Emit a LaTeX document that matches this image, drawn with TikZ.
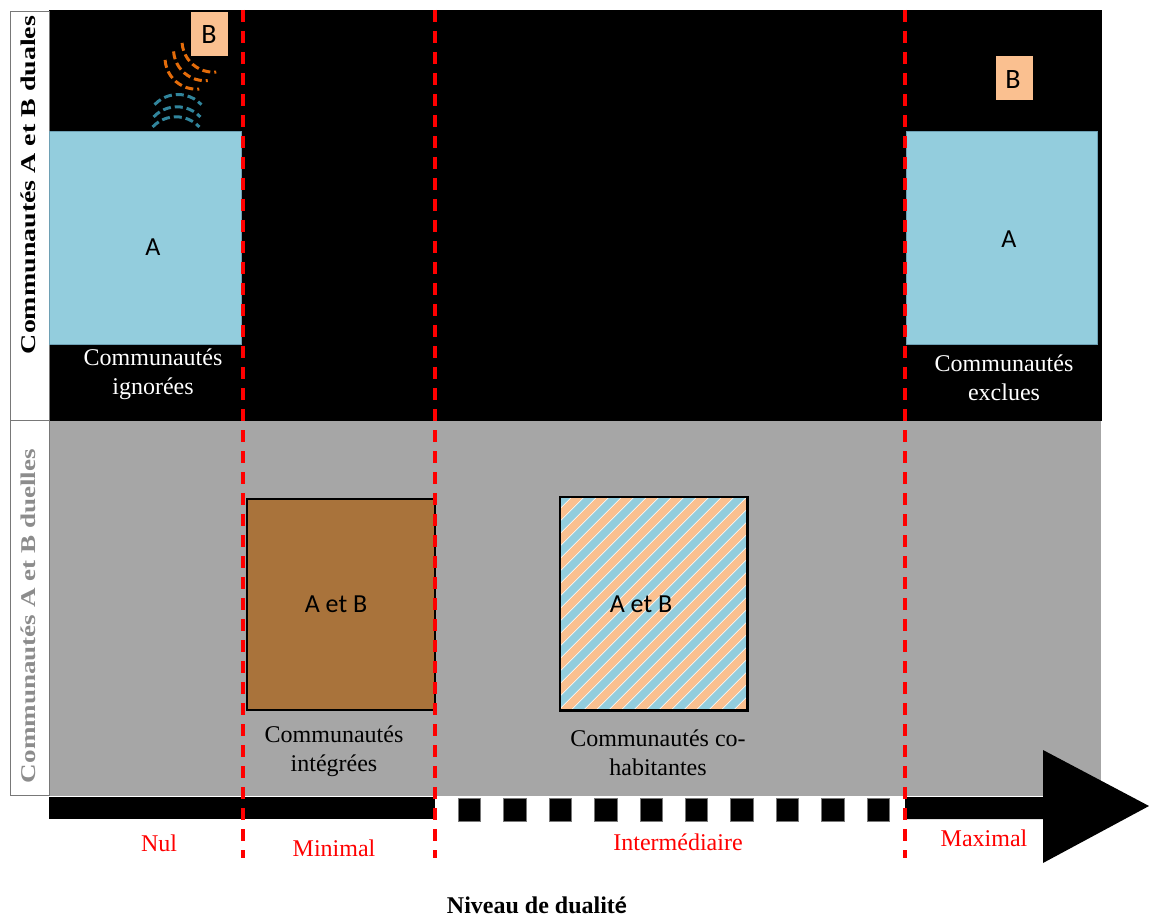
\documentclass[tikz,border=0pt]{standalone}
\usepackage{fontspec}
\setmainfont{Liberation Serif}
\newfontfamily\calibri{Carlito}
\usepackage{graphicx}
\definecolor{lblue}{RGB}{147,205,221}
\definecolor{lblueedge}{RGB}{110,160,180}
\definecolor{peach}{RGB}{250,192,144}
\definecolor{brownbox}{RGB}{169,115,59}
\definecolor{panelgray}{RGB}{166,166,166}
\definecolor{wavor}{RGB}{228,108,10}
\definecolor{wavbl}{RGB}{49,133,156}
\definecolor{sidegray}{RGB}{140,140,140}
\definecolor{lborder}{RGB}{120,120,120}
\begin{document}
\begin{tikzpicture}[x=1pt,y=-1pt,
  abox/.style={fill=lblue,draw=lblueedge,line width=0.8pt,inner sep=0pt},
  bbox/.style={fill=peach,inner sep=0pt,minimum width=37pt,minimum height=44pt},
  sans/.style={font=\calibri\fontsize{26}{30}\selectfont,inner sep=0pt},
  lab/.style={font=\fontsize{24}{28.5}\selectfont,align=center,inner sep=0pt},
  axlab/.style={font=\fontsize{24}{28}\selectfont,text=red,inner sep=0pt},
  sep/.style={draw=red,line width=3.2pt,dash pattern=on 12pt off 9pt},
  wave/.style={line width=3pt,dash pattern=on 8pt off 4pt},
  sq/.style={fill=black,draw=lborder,line width=0.5pt}]
\useasboundingbox (0,0) rectangle (1149,917);
% panels
\fill[black] (49,10) rectangle (1102,421);
\fill[panelgray] (49,421) rectangle (1101,796);
% side label boxes
\draw[lborder,fill=white,line width=0.8pt] (10,11) rectangle (49,420);
\draw[lborder,fill=white,line width=0.8pt] (10,420) rectangle (49,795);
\node[rotate=90,font=\bfseries\fontsize{21}{24}\selectfont,inner sep=0pt] (side1) at (28,185)
  {\scalebox{1.33}[1]{Communautés A et B duales}};
\node[rotate=90,font=\bfseries\fontsize{21}{24}\selectfont,text=sidegray,inner sep=0pt] (side2) at (28,616)
  {\scalebox{1.29}[1]{Communautés A et B duelles}};
% A boxes
\node[abox,minimum width=192pt,minimum height=213pt] (A1) at (145,237.5) {};
\node[sans] (tA1) at (153,247) {A};
\node[abox,minimum width=191pt,minimum height=213pt] (A2) at (1002,237.5) {};
\node[sans] (tA2) at (1009,239) {A};
% B boxes
\node[bbox] (B1) at (209,34) {};
\node[sans,font=\calibri\fontsize{28}{30}\selectfont] (tB1) at (209,35) {B};
\node[bbox] (B2) at (1014.5,78) {};
\node[sans,font=\calibri\fontsize{28}{30}\selectfont] (tB2) at (1013,80) {B};
% waves
\foreach \cx/\cy in {213.5/40.7,205/49.2,196.5/57.7}
  \draw[wave,wavor] ([shift={(176:31.5)}]\cx,\cy) arc[start angle=176,end angle=85,radius=31.5];
\foreach \cx/\cy in {176/148.8,177/138.8,178/126.5}
  \draw[wave,wavbl] ([shift={(223:32)}]\cx,\cy) arc[start angle=223,end angle=317,radius=32];
% brown box
\node[fill=brownbox,draw=black,line width=1.6pt,minimum width=188pt,minimum height=211pt,inner sep=0pt] (AB1) at (341,604.5) {};
\node[sans] (tAB1) at (336,604) {A et B};
% hatched box
\node[fill=white,minimum width=187pt,minimum height=213pt,inner sep=0pt] (AB2) at (653.5,603.5) {};
\begin{scope}
\clip (AB2.north west) rectangle (AB2.south east);
\foreach \i in {0,...,33}{
  \pgfmathsetmacro{\c}{1050+12.5*\i}
  \pgfmathparse{mod(\i,2)==0 ? 1 : 0}
  \ifnum\pgfmathresult=1
    \draw[peach,line width=8pt] (540,\c-540) -- (767,\c-767);
  \else
    \draw[lblue,line width=8pt] (540,\c-540) -- (767,\c-767);
  \fi
}
\end{scope}
\draw[black,line width=2.6pt] (AB2.north west) rectangle (AB2.south east);
\node[sans] (tAB2) at (641,604) {A et B};
% captions
\node[lab,text=white] (cap1) at (153,374) {Communautés\\ignorées};
\node[lab,text=white] (cap2) at (1004,378) {Communautés\\exclues};
\node[lab] (cap3) at (334,751) {Communautés\\intégrées};
\node[lab] (cap4) at (658,753) {Communautés co-\\habitantes};
% bottom axis
\fill[black] (49,797) rectangle (435,819);
\foreach \i in {0,...,9}
  \draw[sq] ({458.3+45.4*\i},798) rectangle +(22.4,23);
\fill[black] (905,797) -- (1043,797) -- (1043,750) -- (1149,806) -- (1043,863) -- (1043,819) -- (905,819) -- cycle;
% separators
\coordinate (s1t) at (243,10); \coordinate (s1b) at (243,858);
\coordinate (s2t) at (435,10); \coordinate (s2b) at (435,858);
\coordinate (s3t) at (905,10); \coordinate (s3b) at (905,858);
\draw[sep] (s1t) -- (s1b);
\draw[sep] (s2t) -- (s2b);
\draw[sep] (s3t) -- (s3b);
% axis labels
\node[axlab] (nul) at (159,843) {Nul};
\node[axlab] (min) at (334,848) {Minimal};
\node[axlab] (int) at (678,842) {Intermédiaire};
\node[axlab] (max) at (984,838) {Maximal};
\node[font=\bfseries\fontsize{24}{28}\selectfont,inner sep=0pt,anchor=base] (title) at (537,913) {Niveau de dualit{\calibri é}};
\end{tikzpicture}
\end{document}
